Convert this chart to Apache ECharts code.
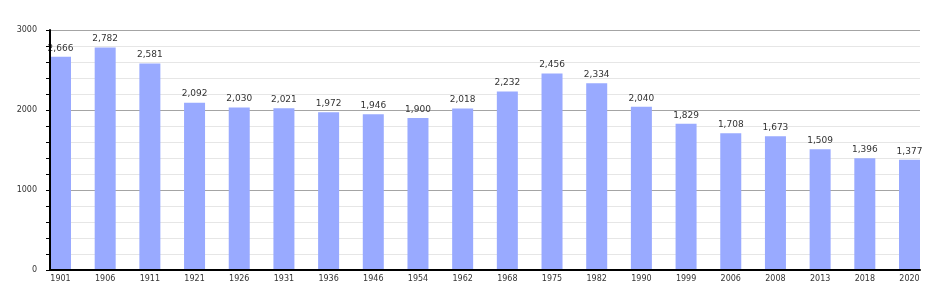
<!DOCTYPE html>
<html>
<head>
<meta charset="utf-8">
<script src="https://cdn.jsdelivr.net/npm/echarts@6/dist/echarts.min.js"></script>
<style>
html,body{margin:0;padding:0;background:#fff;}
#chart{width:950px;height:300px;}
</style>
</head>
<body>
<div id="chart"></div>
<script>
const years = ['1901','1906','1911','1921','1926','1931','1936','1946','1954','1962','1968','1975','1982','1990','1999','2006','2008','2013','2018','2020'];
const population = [2666,2782,2581,2092,2030,2021,1972,1946,1900,2018,2232,2456,2334,2040,1829,1708,1673,1509,1396,1377];
const yMin = 0, yMax = 3000, yStep = 200, yLabelStep = 1000;

const chart = echarts.init(document.getElementById('chart'), null, {renderer:'canvas'});
const fontFam = 'DejaVu Sans, Verdana, sans-serif';
chart.setOption({
  animation:false,
  backgroundColor:'#fff',
  grid:[
    {left:50, right:30, top:30, bottom:30},
    {left:38.16, right:18.16, top:30, bottom:30}
  ],
  xAxis:[
    {gridIndex:0, type:'value', min:0, max:1, z:5,
     axisLine:{show:true, lineStyle:{color:'#000', width:2}},
     axisTick:{show:false}, axisLabel:{show:false}, splitLine:{show:false}},
    {gridIndex:1, type:'category', data:years, boundaryGap:true,
     axisLine:{show:false}, axisTick:{show:false},
     axisLabel:{color:'#333', fontSize:8, fontFamily:fontFam, margin:5, interval:0}}
  ],
  yAxis:[
    {gridIndex:0, type:'value', min:yMin, max:yMax, interval:yStep, position:'left',
     axisLine:{show:false},
     axisTick:{show:true, length:4, lineStyle:{color:'#000'}},
     axisLabel:{color:'#333', fontSize:8, fontFamily:fontFam, margin:13,
       formatter:v => (v % yLabelStep === 0 ? String(v) : '')},
     splitLine:{show:true, lineStyle:{color:['#a4a4a4','#e6e6e6','#e6e6e6','#e6e6e6','#e6e6e6'], width:1}}},
    {gridIndex:1, type:'value', min:yMin, max:yMax, show:false, splitLine:{show:false}},
    {gridIndex:0, type:'value', min:yMin, max:yMax, position:'left', offset:0, z:5,
     axisLine:{show:true, lineStyle:{color:'#000', width:2}},
     axisTick:{show:false}, axisLabel:{show:false}, splitLine:{show:false}}
  ],
  series:[{
    type:'bar', xAxisIndex:1, yAxisIndex:1, data:population, barWidth:21,
    itemStyle:{color:'#99aaff'},
    label:{show:true, position:'top', distance:4, color:'#333', fontSize:9, fontFamily:fontFam,
      formatter:p => p.value.toLocaleString('en-US')}
  }]
});
</script>
</body>
</html>
